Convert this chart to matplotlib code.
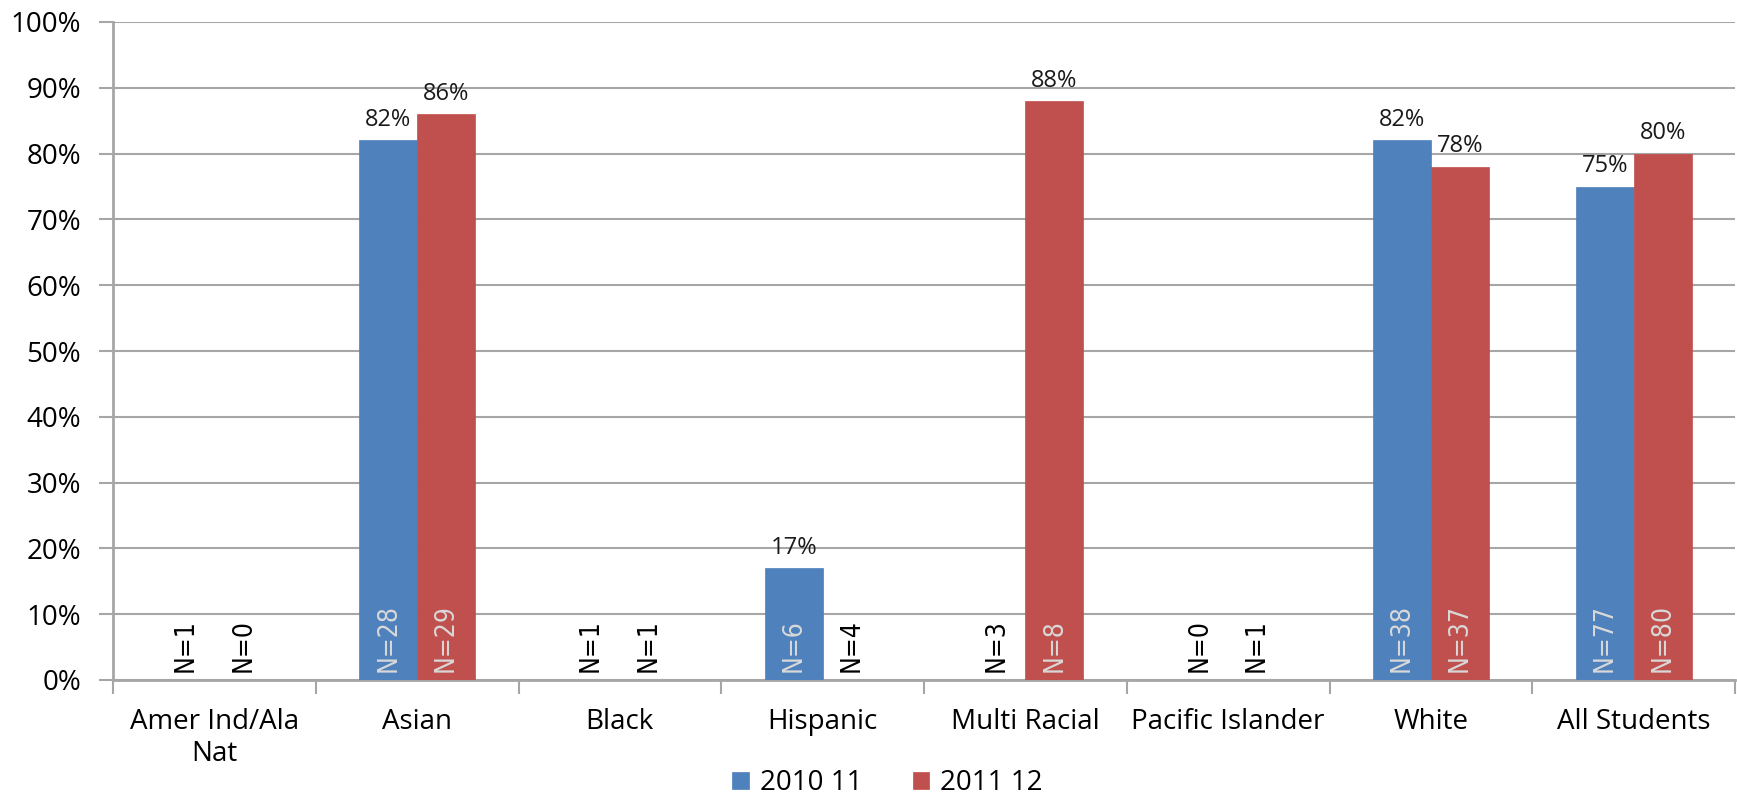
import matplotlib
matplotlib.use("Agg")
import matplotlib.pyplot as plt
import numpy as np
from matplotlib.ticker import FixedLocator, PercentFormatter

categories = ["Amer Ind/Ala\nNat", "Asian", "Black", "Hispanic", "Multi Racial",
              "Pacific Islander", "White", "All Students"]
series_names = ["2010 11", "2011 12"]
vals_2010 = [None, 82, None, 17, None, None, 82, 75]
vals_2011 = [None, 86, None, None, 88, None, 78, 80]
n_2010 = [1, 28, 1, 6, 3, 0, 38, 77]
n_2011 = [0, 29, 1, 4, 8, 1, 37, 80]
colors = ["#4F81BD", "#C0504D"]

plt.rcParams['font.family'] = ['Open Sans', 'DejaVu Sans']

fig = plt.figure(figsize=(17.37, 8.01), dpi=100)
ax = fig.add_axes([113/1737, 1-680/801, (1735-113)/1737, (680-22)/801])

x = np.arange(len(categories))
bw = 1/3.5
offsets = [-bw/2, bw/2]
grid_c = "#A6A6A6"

for vals, ns, off, col, name in zip([vals_2010, vals_2011], [n_2010, n_2011], offsets, colors, series_names):
    heights = [v if v is not None else 0 for v in vals]
    ax.bar(x + off, heights, width=bw, color=col, label=name, zorder=3,
           edgecolor=col, linewidth=0.5)
    for xi, v, n in zip(x, vals, ns):
        if v is not None:
            ax.annotate(f"{v}%", (xi + off, v), xytext=(0, 6), textcoords="offset points",
                        ha="center", va="bottom", fontsize=17, color="#1a1a1a", zorder=4)
        tc = "#D9D9D9" if v is not None else "black"
        ax.text(xi + off, 1.2, f"N={n}", rotation=90, ha="center", va="bottom",
                fontsize=19, color=tc, zorder=4, family="DejaVu Sans", fontstretch="condensed")

ax.set_xlim(-0.5, len(categories) - 0.5)
ax.set_ylim(0, 100)
ax.yaxis.set_major_locator(FixedLocator(np.arange(0, 101, 10)))
ax.yaxis.set_major_formatter(PercentFormatter(decimals=0))
ax.grid(axis="y", color=grid_c, linewidth=1.5, zorder=0)
ax.set_axisbelow(True)

ax.set_xticks(x)
ax.set_xticklabels(categories, fontsize=20)
ax.set_xticks(np.arange(-0.5, len(categories)), minor=True)
ax.tick_params(axis="x", which="major", length=0, pad=20)
ax.tick_params(axis="x", which="minor", length=10, width=1.5, color=grid_c, direction="out")
ax.tick_params(axis="y", length=10, width=1.5, color=grid_c, labelsize=20, pad=13)

for s in ["top", "right"]:
    ax.spines[s].set_visible(False)
for s in ["left", "bottom"]:
    ax.spines[s].set_color(grid_c)
    ax.spines[s].set_linewidth(2)

fig.legend(loc="center", bbox_to_anchor=(0.511, 0.022), ncol=2, frameon=False,
           fontsize=20, handlelength=0.6, handleheight=0.6, columnspacing=1.8,
           handletextpad=0.4)

fig.savefig("out.png", dpi=100)
